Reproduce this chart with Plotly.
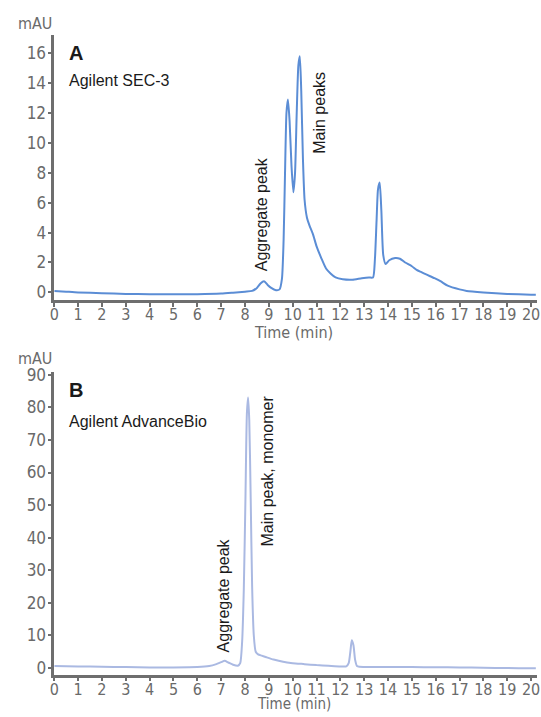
import plotly.graph_objects as go

# ---- Data ----
time_a = [0, 0.5, 1, 2, 3, 4, 5, 6, 7, 7.5, 8.0, 8.3, 8.5, 8.65, 8.8, 8.95, 9.1, 9.3, 9.45, 9.55,
          9.62, 9.68, 9.74, 9.8, 9.87, 9.95, 10.03, 10.1, 10.17, 10.24, 10.3, 10.36, 10.43, 10.5,
          10.6, 10.7, 10.85, 11.0, 11.2, 11.4, 11.6, 11.8, 12.1, 12.5, 12.9, 13.2, 13.37, 13.45,
          13.52, 13.58, 13.65, 13.72, 13.8, 13.9, 14.05, 14.3, 14.5, 14.72, 15.0, 15.2, 15.4, 15.6,
          15.95, 16.2, 16.5, 17.0, 17.3, 18.0, 19.0, 20.0, 20.2]
mau_a = [0.1, 0.05, 0.0, -0.05, -0.1, -0.12, -0.12, -0.12, -0.08, -0.02, 0.05, 0.1, 0.3, 0.6, 0.75,
         0.5, 0.3, 0.15, 0.2, 0.9, 3.5, 8, 12, 12.9, 11.5, 8.5, 6.7, 8, 12, 15.2, 15.8, 13.5, 9, 6.2,
         5, 4.5, 3.9, 3.1, 2.3, 1.6, 1.25, 1.0, 0.88, 0.85, 0.95, 1.0, 1.0, 2.2, 4.8, 6.9, 7.35, 5.5,
         2.5, 1.9, 2.15, 2.3, 2.25, 2.0, 1.75, 1.5, 1.35, 1.2, 0.95, 0.75, 0.45, 0.2, 0.1, 0.0,
         -0.1, -0.15, -0.15]

time_b = [0, 1, 2, 3, 4, 5, 6, 6.5, 6.8, 7.0, 7.15, 7.3, 7.5, 7.7, 7.8, 7.88, 7.95, 8.02, 8.08,
          8.13, 8.18, 8.24, 8.3, 8.37, 8.45, 8.55, 8.7, 8.9, 9.2, 9.6, 10.0, 10.5, 11.0, 11.5, 12.0,
          12.25, 12.35, 12.42, 12.48, 12.55, 12.62, 12.7, 12.8, 13.0, 14, 15, 16, 17, 18, 19, 20, 20.2]
mau_b = [0.6, 0.5, 0.4, 0.3, 0.2, 0.2, 0.3, 0.6, 1.2, 1.8, 2.2, 1.7, 1.0, 0.7, 1.5, 8, 24, 52, 78,
         83, 76, 52, 25, 10, 5, 4.2, 3.8, 3.3, 2.6, 1.9, 1.5, 1.2, 0.9, 0.7, 0.5, 0.5, 1.5, 5, 8.5,
         7, 2.5, 0.6, 0.4, 0.35, 0.3, 0.3, 0.25, 0.2, 0.1, 0.0, -0.1, -0.1]

x_ticks = list(range(0, 21))
y_ticks_a = list(range(0, 17, 2))
y_ticks_b = list(range(0, 91, 10))

W, H = 541, 717
def px(x): return x / W
def py(y): return 1 - y / H

COND = "DejaVu Sans Condensed, Liberation Sans Narrow, Arial Narrow, sans-serif"
TICK_FONT = dict(family=COND, size=17, color="#6a6a6a")
XTICK_FONT = dict(TICK_FONT, size=16)
LABEL_FONT = dict(family="Liberation Sans, Arial, sans-serif", size=16, color="#1a1a1a")
AXIS_COLOR = "#6e6e6e"

fig = go.Figure()
fig.add_trace(go.Scatter(x=time_a, y=mau_a, mode="lines", xaxis="x", yaxis="y",
                         line=dict(color="#5b8dd5", width=2, shape="spline", smoothing=0.6),
                         showlegend=False, hoverinfo="skip"))
fig.add_trace(go.Scatter(x=time_b, y=mau_b, mode="lines", xaxis="x2", yaxis="y2",
                         line=dict(color="#aab9e2", width=2, shape="spline", smoothing=0.6),
                         showlegend=False, hoverinfo="skip"))

xdom = [px(50), px(540)]
xrange_ = [0, 20.25]

common_x = dict(range=xrange_, domain=xdom, tickvals=x_ticks, ticks="outside", ticklen=4,
                tickwidth=2, tickcolor=AXIS_COLOR, showline=True, linecolor=AXIS_COLOR,
                linewidth=2.5, showgrid=False, zeroline=False, tickfont=XTICK_FONT, fixedrange=True,
                ticklabeloverflow="allow", ticklabelstandoff=-6)
common_y = dict(ticks="outside", ticklen=4, tickwidth=2, tickcolor=AXIS_COLOR, showline=True,
                linecolor=AXIS_COLOR, linewidth=2.5, showgrid=False, zeroline=False,
                tickfont=TICK_FONT, fixedrange=True, ticklabelstandoff=-2)

fig.update_layout(
    width=W, height=H, margin=dict(l=0, r=0, t=0, b=0),
    paper_bgcolor="white", plot_bgcolor="white",
    xaxis=dict(anchor="y", **common_x),
    yaxis=dict(anchor="x", domain=[py(297), py(28)], range=[-0.5, 17.25], tickvals=y_ticks_a, **common_y),
    xaxis2=dict(anchor="y2", **common_x),
    yaxis2=dict(anchor="x2", domain=[py(677), py(370)], range=[-2.0, 90.9], tickvals=y_ticks_b, **common_y),
)

ann = []
def add(text, x, y, font, xanchor="center", yanchor="middle", angle=0):
    ann.append(dict(text=text, x=px(x), y=py(y), xref="paper", yref="paper", showarrow=False,
                    font=font, xanchor=xanchor, yanchor=yanchor, textangle=angle, borderpad=0))

unit_font = dict(TICK_FONT, size=16)
add("mAU", 49, 17, unit_font, xanchor="right")
add("mAU", 49, 356, unit_font, xanchor="right")
add("Time (min)", 293, 330, unit_font)
add("Time (min)", 293, 717, dict(TICK_FONT, size=15), yanchor="bottom")

bold = dict(family="Liberation Sans, Arial, sans-serif", size=20, color="#1a1a1a")
add("<b>A</b>", 64, 47, bold, xanchor="left")
add("Agilent SEC-3", 64, 75, LABEL_FONT, xanchor="left")
add("<b>B</b>", 64, 388, bold, xanchor="left")
add("Agilent AdvanceBio", 64, 420, LABEL_FONT, xanchor="left")

add("Aggregate peak", 260, 210, LABEL_FONT, angle=-90)
add("Main peaks", 319, 107, LABEL_FONT, angle=-90)
add("Aggregate peak", 222, 597, LABEL_FONT, angle=-90)
add("Main peak, monomer", 266, 471, LABEL_FONT, angle=-90)

fig.update_layout(annotations=ann)
fig.write_html("out.html")
